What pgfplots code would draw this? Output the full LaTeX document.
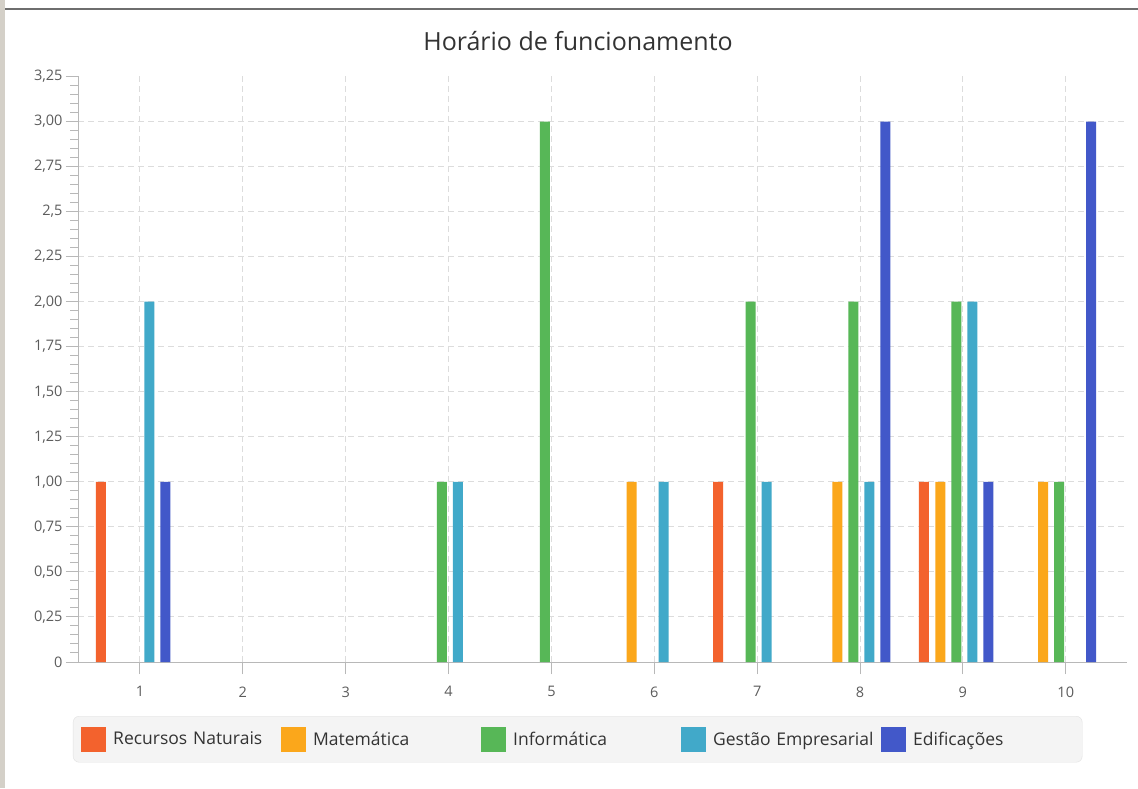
\documentclass[border=0pt]{standalone}
\usepackage{fontspec}
\setmainfont{Open Sans}
\usepackage{pgfplots}
\pgfplotsset{compat=1.18}
\definecolor{c1}{HTML}{F3622D}
\definecolor{c2}{HTML}{FBA71B}
\definecolor{c3}{HTML}{57B757}
\definecolor{c4}{HTML}{41A9C9}
\definecolor{c5}{HTML}{4258C9}
\definecolor{gridc}{HTML}{DCDCDC}
\definecolor{axisc}{HTML}{B8B8B8}
\definecolor{labc}{HTML}{5C5C5C}
\definecolor{legbg}{HTML}{F4F4F4}
\definecolor{legbd}{HTML}{E2E2E2}
\definecolor{frameL}{HTML}{D4D0C8}
\definecolor{frameT}{HTML}{6E6E6E}
\pgfplotsset{
  legsq/.style={legend image code/.code={\fill[##1,draw=none,sharp corners] (0pt,-12.5pt) rectangle (25pt,12.5pt); \path (32pt,0pt);}},
}
\begin{document}
\begin{tikzpicture}[x=1pt,y=1pt]
\useasboundingbox (0,0) rectangle (1138,788);
\fill[white] (0,0) rectangle (1138,788);
\fill[frameL] (0,0) rectangle (5,788);
\draw[frameT, line width=1.5pt] (5,779) -- (1138,779);
\node[anchor=base, font=\fontsize{25}{30}\selectfont, text=black!80, inner sep=0pt] at (578,737) {Horário de funcionamento};
\begin{axis}[
  at={(78pt,126pt)}, anchor=south west,
  scale only axis, width=1049pt, height=585.5pt,
  xmin=0.3975, xmax=10.5955, ymin=0, ymax=3.25,
  axis lines=left, axis line style={-, draw=axisc, line width=1pt},
  /pgf/number format/assume math mode=true,
  xtick={1,2,3,4,5,6,7,8,9,10},
  ytick={0,0.25,0.5,0.75,1,1.25,1.5,1.75,2,2.25,2.5,2.75,3},
  yticklabels={0,{0,25},{0,50},{0,75},{1,00},{1,25},{1,50},{1,75},{2,00},{2,25},{2,5},{2,75},{3,00}},
  extra y ticks={3.25}, extra y tick labels={3{,}25}, extra y tick style={grid=none},
  minor ytick={0,0.05,...,3.25},
  tick align=outside, major tick length=12pt, minor tick length=7.5pt,
  tick style={draw=axisc, line width=1pt},
  xmajorgrids, ymajorgrids,
  major grid style={draw=gridc, dash pattern=on 6pt off 4pt, line width=1pt},
  ticklabel style={font=\fontsize{14.5}{17}\selectfont, text=labc},
  xticklabel style={yshift=-9pt},
  legend columns=5,
  legend style={at={(-0.00477,-0.0923)}, anchor=north west, fill=legbg, draw=legbd,
    rounded corners=6pt, inner xsep=8pt, inner ysep=10.5pt, column sep=0pt,
    font=\fontsize{17.5}{21}\selectfont, text=black!80,
    nodes={inner sep=0pt, text width=168pt, align=left, anchor=west},
    cells={anchor=west}},
]
\addplot[ybar, bar width=10pt, bar shift=-39.1pt, fill=c1, draw=none, legsq] coordinates {(1,1) (7,1) (9,1)};
\addlegendentry{Recursos Naturais}
\addplot[ybar, bar width=10pt, bar shift=-22.6pt, fill=c2, draw=none, legsq] coordinates {(6,1) (8,1) (9,1) (10,1)};
\addlegendentry{Matemática}
\addplot[ybar, bar width=10pt, bar shift=-6.6pt, fill=c3, draw=none, legsq] coordinates {(4,1) (5,3) (7,2) (8,2) (9,2) (10,1)};
\addlegendentry{Informática}
\addplot[ybar, bar width=10pt, bar shift=9.4pt, fill=c4, draw=none, legsq] coordinates {(1,2) (4,1) (6,1) (7,1) (8,1) (9,2)};
\addlegendentry{Gestão Empresarial}
\addplot[ybar, bar width=10pt, bar shift=25.4pt, fill=c5, draw=none, legsq] coordinates {(1,1) (8,3) (9,1) (10,3)};
\addlegendentry[text width=161pt]{Edificações}
\end{axis}
\end{tikzpicture}
\end{document}
